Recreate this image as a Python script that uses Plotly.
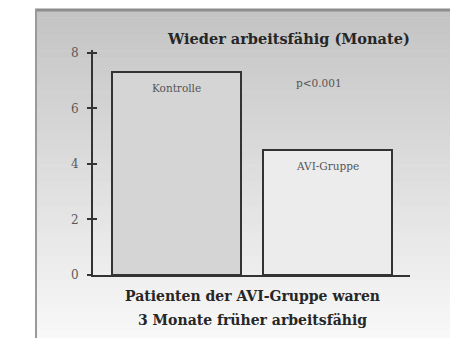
import plotly.graph_objects as go

# Zeit bis zur Wiederaufnahme der Arbeit (Monate)
groups = ["Kontrolle", "AVI-Gruppe"]
months = [7.3, 4.5]
bar_fills = ["#d5d5d5", "#ececec"]
y_ticks = [0, 2, 4, 6, 8]
title_text = "Wieder arbeitsfähig (Monate)"
p_text = "p&lt;0.001"
footer_lines = ["Patienten der AVI-Gruppe waren", "3 Monate früher arbeitsfähig"]

W, H = 450, 338
L, R, T, B = 93, 40, 50, 63
pw, ph = W - L - R, H - T - B
SERIF = "DejaVu Serif, Liberation Serif, serif"


def px_x(p):
    return (p - L) / pw


def px_y(p):
    return (H - B - p) / ph


fig = go.Figure()
fig.add_trace(go.Bar(
    x=groups, y=months, width=0.854,
    marker=dict(color=bar_fills, line=dict(color="#333333", width=2)),
    hoverinfo="skip", showlegend=False,
))
# invisible copy on the mirrored axis so its inward ticks appear
fig.add_trace(go.Bar(x=groups, y=months, yaxis="y2", opacity=0,
                     hoverinfo="skip", showlegend=False))

# panel background: soft vertical gray gradient with a frame on top/left
shapes = []
top_px, n = 9, 40
step = (H - top_px) / n
for i in range(n):
    t = i / (n - 1)
    g = int(196 + (248 - 196) * t)
    shapes.append(dict(
        type="rect", xref="paper", yref="paper", layer="below",
        x0=px_x(36), x1=px_x(W + 5),
        y0=px_y(top_px + i * step), y1=px_y(top_px + (i + 1) * step + 0.5),
        fillcolor=f"rgb({g},{g},{g})", line=dict(width=0),
    ))
shapes.append(dict(type="line", xref="paper", yref="paper", layer="below",
                   x0=px_x(35), x1=px_x(W + 5), y0=px_y(10), y1=px_y(10),
                   line=dict(color="#8c8c8c", width=3)))
shapes.append(dict(type="line", xref="paper", yref="paper", layer="below",
                   x0=px_x(36), x1=px_x(36), y0=px_y(9), y1=px_y(H + 5),
                   line=dict(color="#9a9a9a", width=2)))

centered = dict(xref="paper", yref="paper", xanchor="center",
                yanchor="middle", showarrow=False)
annotations = [
    dict(text=f"<b>{title_text}</b>", x=px_x(288), y=px_y(38), **centered,
         font=dict(family=SERIF, size=14.5, color="#262626")),
    dict(text=p_text, x=px_x(319), y=px_y(83), **centered,
         font=dict(family=SERIF, size=10.5, color="#555555")),
]
for g_name, v in zip(groups, months):
    annotations.append(dict(
        text=g_name, x=g_name, y=v, xref="x", yref="y", xanchor="center",
        yanchor="top", yshift=-8, showarrow=False,
        font=dict(family=SERIF, size=10.5, color="#555555")))
for k, line in enumerate(footer_lines):
    annotations.append(dict(
        text=f"<b>{line}</b>", x=px_x(252), y=px_y(296 + 24 * k), **centered,
        font=dict(family=SERIF, size=14, color="#262626")))

axis_common = dict(range=[0, 8.1], showgrid=False, zeroline=False)
fig.update_layout(
    width=W, height=H,
    margin=dict(l=L, r=R, t=T, b=B, pad=0),
    paper_bgcolor="white", plot_bgcolor="rgba(0,0,0,0)",
    bargap=0,
    xaxis=dict(range=[-0.553, 1.546], showticklabels=False, ticks="",
               showline=True, linecolor="#333333", linewidth=2,
               showgrid=False, zeroline=False, fixedrange=True),
    yaxis=dict(**axis_common, tickvals=y_ticks, ticks="outside", ticklen=4,
               tickwidth=1.5, tickcolor="#333333", showline=True,
               linecolor="#333333", linewidth=2, ticklabelstandoff=6,
               tickfont=dict(family=SERIF, size=12, color="#5a5a5a")),
    yaxis2=dict(**axis_common, overlaying="y", side="left", anchor="x",
                tickvals=y_ticks, ticks="inside", ticklen=4, tickwidth=1.5,
                tickcolor="#333333", showticklabels=False, showline=False),
    shapes=shapes, annotations=annotations,
)

fig.write_html("out.html")
